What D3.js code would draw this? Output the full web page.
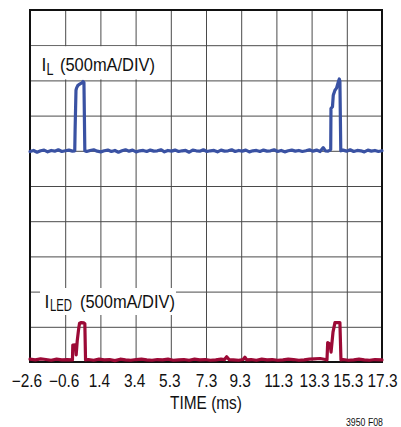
<!DOCTYPE html>
<html>
<head>
<meta charset="utf-8">
<script src="https://cdn.jsdelivr.net/npm/d3@7"></script>
<style>
  html, body { margin: 0; padding: 0; background: #fff; }
  svg { display: block; }
  text { font-family: "Liberation Sans", Arial, Helvetica, sans-serif; }
</style>
</head>
<body>
<svg id="chart" width="401" height="427"></svg>
<script>
// ---------------- DATA ----------------
const tickValues = [-2.6, -0.61, 1.38, 3.37, 5.36, 7.35, 9.34, 11.33, 13.32, 15.31, 17.3];
const tickLabels = ["\u22122.6", "\u22120.6", "1.4", "3.4", "5.3", "7.3", "9.3", "11.3", "13.3", "15.3", "17.3"];
const xTitle = "TIME (ms)";
const figureId = "3950 F08";

// Inductor current I_L (mA), time in ms
const ilTime = [
  -2.6, -2.4, -2.2, -2.0, -1.8, -1.6, -1.4, -1.2, -1.0, -0.8, -0.6, -0.4, -0.2, -0.07,
  -0.05, 0.0, 0.03, 0.11, 0.23, 0.34, 0.40, 0.45, 0.50,
  0.6, 0.8, 1.0, 1.2, 1.4, 1.6, 1.8, 2.0, 2.2, 2.4, 2.6, 2.8, 3.0, 3.2, 3.4, 3.6, 3.8,
  4.0, 4.2, 4.4, 4.6, 4.8, 5.0, 5.2, 5.4, 5.6, 5.8, 6.0, 6.2, 6.4, 6.6, 6.8, 7.0, 7.2,
  7.4, 7.6, 7.8, 8.0, 8.2, 8.4, 8.6, 8.8, 9.0, 9.2, 9.4, 9.6, 9.8, 10.0, 10.2, 10.4,
  10.6, 10.8, 11.0, 11.2, 11.4, 11.6, 11.8, 12.0, 12.2, 12.4, 12.6, 12.8, 13.0, 13.2,
  13.4, 13.6, 13.8, 13.98, 14.1, 14.25, 14.37,
  14.40, 14.415, 14.50, 14.545, 14.64, 14.73, 14.83, 14.885, 14.92, 14.97,
  15.1, 15.3, 15.5, 15.7, 15.9, 16.1, 16.3, 16.5, 16.7, 16.9, 17.1, 17.3
];
const ilCurrent = [
  -10, 5, -20, 0, 10, -15, 5, -5, 15, -10, 0, 10, -5, 0,
  300, 860, 890, 930, 950, 965, 985, 970, 0,
  -10, 5, 15, -5, -15, 0, 10, -10, 5, -20, 0, 15, -5, 10, -15, 0, 5,
  -10, 10, -5, 0, 15, -15, 5, -5, 10, -10, 0, 5, -20, 10, 0, -5, 15,
  -10, 0, 5, -15, 10, -5, 0, 15, -10, 5, -5, 10, -15, 0, 5, -10,
  10, -5, 0, 15, -10, 5, -15, 0, 10, -5, 5, -10, 0, 15,
  -5, 10, -10, 45, 0, -5, 10,
  20, 600, 625, 790, 860, 890, 980, 1020, 990, 0,
  10, -5, 15, -10, 5, 0, -15, 10, -5, 5, -10, 0
];

// LED current I_LED (mA), time in ms
const ledTime = [
  -2.6, -2.3, -2.0, -1.7, -1.4, -1.1, -0.8, -0.5, -0.22,
  -0.2, -0.18, -0.03, 0.01, 0.07, 0.14, 0.2, 0.3, 0.45, 0.50, 0.54,
  0.7, 1.0, 1.3, 1.6, 1.9, 2.2, 2.5, 2.8, 3.1, 3.4, 3.7, 4.0, 4.3, 4.6, 4.9, 5.2, 5.5,
  5.8, 6.1, 6.4, 6.7, 7.0, 7.3, 7.6, 7.9, 8.2, 8.4, 8.52, 8.65, 8.9, 9.2, 9.45, 9.55,
  9.65, 9.9, 10.2, 10.5, 10.8, 11.1, 11.4, 11.7, 12.0, 12.3, 12.6, 12.9, 13.2, 13.5,
  13.8, 14.1,
  14.19, 14.23, 14.36, 14.42, 14.53, 14.64, 14.92, 14.98,
  15.1, 15.4, 15.7, 16.0, 16.3, 16.6, 16.9, 17.3
];
const ledCurrent = [
  40, 30, 45, 35, 25, 40, 30, 35, 30,
  30, 240, 245, 100, 300, 450, 550, 560, 555, 545, 30,
  35, 25, 40, 30, 35, 20, 40, 30, 25, 35, 40, 30, 25, 35, 30, 40, 25,
  30, 35, 25, 40, 30, 35, 25, 30, 40, 35, 75, 35, 30, 25, 35, 68,
  30, 35, 25, 40, 30, 35, 25, 30, 40, 35, 25, 30, 40, 45,
  50, 35,
  30, 275, 255, 140, 425, 560, 560, 30,
  35, 25, 30, 40, 30, 25, 35, 30
];

// ---------------- DRAWING ----------------
const svg = d3.select("#chart");
const L = 30, R = 382, T = 10, B = 362;
const FS = 17.5;       // main font size
const SQUEEZE = 0.88;  // condensed look

const x = d3.scaleLinear().domain([-2.6, 17.3]).range([L, R]);
const yIL = d3.scaleLinear().domain([-3000, 2000]).range([B, T]);
const yLED = d3.scaleLinear().domain([0, 5000]).range([B, T]);

const gridColor = "#4a4a4a";

const gx = svg.append("g")
  .attr("transform", `translate(0,${B})`)
  .call(d3.axisBottom(x).tickValues(tickValues).tickSize(-(B - T)).tickFormat(""));
gx.select(".domain").remove();
gx.selectAll("line").attr("stroke", gridColor).attr("stroke-width", 1);

const gy = svg.append("g")
  .attr("transform", `translate(${L},0)`)
  .call(d3.axisLeft(yIL).tickValues(d3.range(-3000, 2001, 500)).tickSize(-(R - L)).tickFormat(""));
gy.select(".domain").remove();
gy.selectAll("line").attr("stroke", gridColor).attr("stroke-width", 1);

// white label backgrounds
svg.append("rect").attr("x", 31).attr("y", yIL(1500) + 1).attr("width", 129).attr("height", yIL(1000) - yIL(1500) - 2).attr("fill", "#fff");
svg.append("rect").attr("x", 40).attr("y", 288).attr("width", 136).attr("height", 27).attr("fill", "#fff");

// frame
svg.append("rect").attr("x", L).attr("y", T).attr("width", R - L).attr("height", B - T)
  .attr("fill", "none").attr("stroke", "#111").attr("stroke-width", 2);

// traces
const ilData = ilTime.map((t, i) => [t, ilCurrent[i]]);
const ledData = ledTime.map((t, i) => [t, ledCurrent[i]]);

svg.append("path")
  .datum(ilData)
  .attr("d", d3.line().x(d => x(d[0])).y(d => yIL(d[1])))
  .attr("fill", "none").attr("stroke", "#3a52a3").attr("stroke-width", 3.2)
  .attr("stroke-linejoin", "round").attr("stroke-linecap", "round");

svg.append("path")
  .datum(ledData)
  .attr("d", d3.line().x(d => x(d[0])).y(d => yLED(d[1])))
  .attr("fill", "none").attr("stroke", "#9c0a36").attr("stroke-width", 3.2)
  .attr("stroke-linejoin", "round").attr("stroke-linecap", "round");

// helper: condense text to a fraction of its natural width
function squeeze(sel, f) {
  sel.each(function () {
    const w = this.getComputedTextLength();
    d3.select(this).attr("textLength", w * f).attr("lengthAdjust", "spacingAndGlyphs");
  });
  return sel;
}

// trace labels
function traceLabel(xI, base, sub, subW, xSub, xRest, subDy) {
  svg.append("text").attr("x", xI).attr("y", base).attr("font-size", FS).attr("fill", "#111").text("I");
  svg.append("text").attr("x", xSub).attr("y", base + subDy).attr("font-size", FS - 1)
    .attr("textLength", subW).attr("lengthAdjust", "spacingAndGlyphs")
    .attr("fill", "#111").text(sub);
  svg.append("text").attr("x", xRest).attr("y", base).attr("font-size", FS)
    .attr("textLength", 95).attr("lengthAdjust", "spacingAndGlyphs")
    .attr("fill", "#111").text("(500mA/DIV)");
}
traceLabel(41.5, 70.5, "L", 7, 46.5, 60, 4.5);
traceLabel(44.5, 307.5, "LED", 22, 50, 80, 3);

// tick labels
const labelDx = [-3, -1, -1, -1, -1, 0.5, -1, 2.3, 3, 1.5, 0.5];
const tl = svg.append("g").selectAll("text")
  .data(tickValues)
  .join("text")
  .attr("x", (d, i) => x(d) + labelDx[i])
  .attr("y", 387)
  .attr("text-anchor", "middle")
  .attr("font-size", FS)
  .attr("fill", "#111")
  .text((d, i) => tickLabels[i]);
squeeze(tl, SQUEEZE);

squeeze(svg.append("text").attr("x", 206).attr("y", 409).attr("text-anchor", "middle")
  .attr("font-size", FS).attr("fill", "#111").text(xTitle), SQUEEZE);

svg.append("text").attr("x", 383).attr("y", 426).attr("text-anchor", "end")
  .attr("font-size", 10).attr("textLength", 37).attr("lengthAdjust", "spacingAndGlyphs")
  .attr("fill", "#111").text(figureId);
</script>
</body>
</html>
